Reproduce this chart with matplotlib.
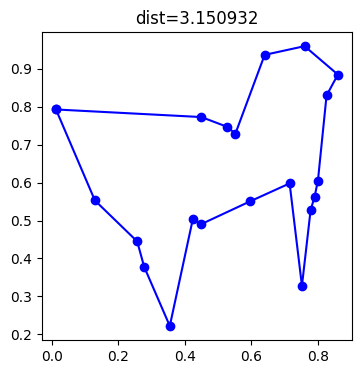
import matplotlib
matplotlib.use("Agg")
import matplotlib.pyplot as plt

xs = [0.013, 0.450, 0.528, 0.552, 0.640, 0.760, 0.860, 0.826, 0.800, 0.790,
      0.778, 0.752, 0.715, 0.597, 0.448, 0.424, 0.355, 0.278, 0.257, 0.130]
ys = [0.793, 0.773, 0.747, 0.729, 0.937, 0.960, 0.885, 0.830, 0.605, 0.563,
      0.527, 0.328, 0.598, 0.551, 0.490, 0.503, 0.222, 0.378, 0.445, 0.553]
title = "dist=3.150932"

fig = plt.figure(figsize=(3.61, 3.74), dpi=100)
ax = fig.add_axes([0.116, 0.091, 0.859, 0.823])
ax.plot(xs + xs[:1], ys + ys[:1], "bo-")
ax.set_title(title)
fig.savefig("out.png", dpi=100)
